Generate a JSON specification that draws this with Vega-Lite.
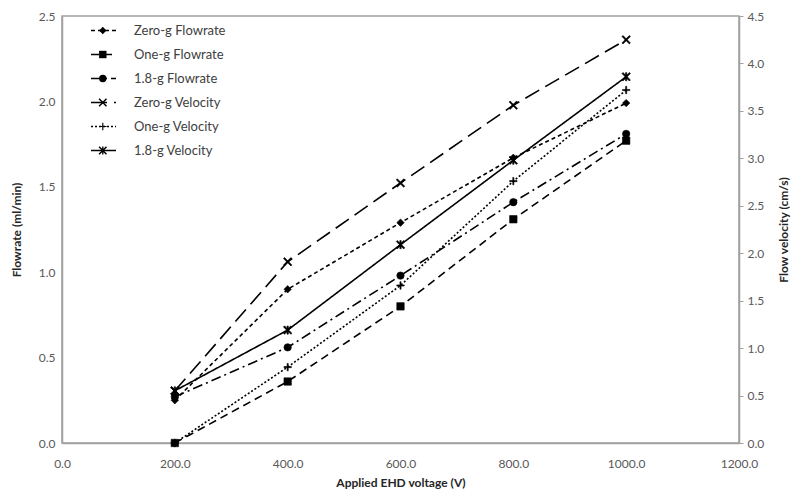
{
  "$schema": "https://vega.github.io/schema/vega-lite/v6.json",
  "width": 677,
  "height": 427,
  "autosize": "none",
  "padding": {"left": 62, "top": 16, "right": 57, "bottom": 53},
  "background": "white",
  "config": {
    "font": "Lato",
    "view": {"stroke": "#a0a0a0", "strokeWidth": 1.5},
    "axis": {
      "grid": false,
      "domainColor": "#a0a0a0",
      "domainWidth": 1.5,
      "labelColor": "#595959",
      "labelFontSize": 12,
      "labelFont": "Lato",
      "titleFont": "Lato",
      "titleFontSize": 12,
      "titleFontWeight": "bold",
      "titleColor": "#262626",
      "labelFlush": false,
      "labelOverlap": false
    }
  },
  "data": {
    "values": [
      {"V": 200, "val": 0.25, "series": "Zero-g Flowrate", "code": "a", "axis": "flow"},
      {"V": 400, "val": 0.90, "series": "Zero-g Flowrate", "code": "a", "axis": "flow"},
      {"V": 600, "val": 1.29, "series": "Zero-g Flowrate", "code": "a", "axis": "flow"},
      {"V": 800, "val": 1.67, "series": "Zero-g Flowrate", "code": "a", "axis": "flow"},
      {"V": 1000, "val": 1.99, "series": "Zero-g Flowrate", "code": "a", "axis": "flow"},
      {"V": 200, "val": 0.0, "series": "One-g Flowrate", "code": "b", "axis": "flow"},
      {"V": 400, "val": 0.36, "series": "One-g Flowrate", "code": "b", "axis": "flow"},
      {"V": 600, "val": 0.80, "series": "One-g Flowrate", "code": "b", "axis": "flow"},
      {"V": 800, "val": 1.31, "series": "One-g Flowrate", "code": "b", "axis": "flow"},
      {"V": 1000, "val": 1.77, "series": "One-g Flowrate", "code": "b", "axis": "flow"},
      {"V": 200, "val": 0.27, "series": "1.8-g Flowrate", "code": "c", "axis": "flow"},
      {"V": 400, "val": 0.56, "series": "1.8-g Flowrate", "code": "c", "axis": "flow"},
      {"V": 600, "val": 0.98, "series": "1.8-g Flowrate", "code": "c", "axis": "flow"},
      {"V": 800, "val": 1.41, "series": "1.8-g Flowrate", "code": "c", "axis": "flow"},
      {"V": 1000, "val": 1.81, "series": "1.8-g Flowrate", "code": "c", "axis": "flow"},
      {"V": 200, "val": 0.55, "series": "Zero-g Velocity", "code": "d", "axis": "vel"},
      {"V": 400, "val": 1.91, "series": "Zero-g Velocity", "code": "d", "axis": "vel"},
      {"V": 600, "val": 2.74, "series": "Zero-g Velocity", "code": "d", "axis": "vel"},
      {"V": 800, "val": 3.56, "series": "Zero-g Velocity", "code": "d", "axis": "vel"},
      {"V": 1000, "val": 4.25, "series": "Zero-g Velocity", "code": "d", "axis": "vel"},
      {"V": 200, "val": 0.0, "series": "One-g Velocity", "code": "e", "axis": "vel"},
      {"V": 400, "val": 0.80, "series": "One-g Velocity", "code": "e", "axis": "vel"},
      {"V": 600, "val": 1.66, "series": "One-g Velocity", "code": "e", "axis": "vel"},
      {"V": 800, "val": 2.76, "series": "One-g Velocity", "code": "e", "axis": "vel"},
      {"V": 1000, "val": 3.72, "series": "One-g Velocity", "code": "e", "axis": "vel"},
      {"V": 200, "val": 0.55, "series": "1.8-g Velocity", "code": "f", "axis": "vel"},
      {"V": 400, "val": 1.19, "series": "1.8-g Velocity", "code": "f", "axis": "vel"},
      {"V": 600, "val": 2.09, "series": "1.8-g Velocity", "code": "f", "axis": "vel"},
      {"V": 800, "val": 2.98, "series": "1.8-g Velocity", "code": "f", "axis": "vel"},
      {"V": 1000, "val": 3.86, "series": "1.8-g Velocity", "code": "f", "axis": "vel"}
    ]
  },
  "encoding": {
    "x": {
      "field": "V",
      "type": "quantitative",
      "scale": {"domain": [0, 1200], "nice": false},
      "axis": {
        "values": [0, 200, 400, 600, 800, 1000, 1200],
        "format": ".1f",
        "ticks": false,
        "labelPadding": 15,
        "title": "Applied EHD voltage (V)",
        "titlePadding": 8
      }
    }
  },
  "layer": [
    {
      "transform": [{"filter": "datum.axis === 'flow'"}],
      "encoding": {
        "y": {
          "field": "val",
          "type": "quantitative",
          "scale": {"domain": [0, 2.5], "nice": false},
          "axis": {
            "orient": "left",
            "values": [0, 0.5, 1, 1.5, 2, 2.5],
            "format": ".1f",
            "ticks": false,
            "labelPadding": 7,
            "title": "Flowrate (ml/min)",
            "titlePadding": 15
          }
        }
      },
      "layer": [
        {
          "mark": {"type": "line", "color": "black", "strokeWidth": 1.6},
          "encoding": {
            "strokeDash": {
              "field": "series",
              "type": "nominal",
              "scale": {
                "domain": ["Zero-g Flowrate", "One-g Flowrate", "1.8-g Flowrate", "Zero-g Velocity", "One-g Velocity", "1.8-g Velocity"],
                "range": [[4, 3], [8, 5], [10, 4, 2, 4], [16, 7], [2, 2], [1, 0]]
              },
              "legend": {
                "orient": "none",
                "legendX": 35,
                "legendY": 8,
                "title": null,
                "padding": 0,
                "symbolType": "M-4,0H4",
                "symbolSize": 39,
                "symbolStrokeWidth": 1.6,
                "symbolStrokeColor": "black",
                "labelFont": "Lato",
                "labelFontSize": 13,
                "labelColor": "#404040",
                "labelOffset": 24,
                "rowPadding": 10
              }
            }
          }
        },
        {
          "mark": {"type": "point", "filled": true, "color": "black", "stroke": "black", "strokeWidth": 0.6, "size": 55, "opacity": 1},
          "encoding": {
            "shape": {
              "field": "code",
              "type": "nominal",
              "scale": {
                "range": [
                  "diamond",
                  "square",
                  "circle",
                  "M-0.86,-1.14L1.14,0.86L0.86,1.14L-1.14,-0.86ZM-0.86,1.14L-1.14,0.86L0.86,-1.14L1.14,-0.86Z",
                  "M-1,-0.15L1,-0.15L1,0.15L-1,0.15ZM0.15,-1L0.15,1L-0.15,1L-0.15,-1Z",
                  "M-0.86,-1.14L1.14,0.86L0.86,1.14L-1.14,-0.86ZM-0.86,1.14L-1.14,0.86L0.86,-1.14L1.14,-0.86ZM0.18,-1.1L0.18,1.1L-0.18,1.1L-0.18,-1.1Z"
                ]
              },
              "legend": {
                "orient": "none",
                "legendX": 34.3,
                "legendY": 8,
                "title": null,
                "padding": 0,
                "symbolSize": 55,
                "symbolFillColor": "black",
                "symbolStrokeColor": "black",
                "symbolStrokeWidth": 0.6,
                "labelFont": "Lato",
                "labelFontSize": 13,
                "labelOpacity": 0,
                "labelOffset": 2,
                "rowPadding": 10
              }
            }
          }
        }
      ]
    },
    {
      "transform": [{"filter": "datum.axis === 'vel'"}],
      "encoding": {
        "y": {
          "field": "val",
          "type": "quantitative",
          "scale": {"domain": [0, 4.5], "nice": false},
          "axis": {
            "orient": "right",
            "values": [0, 0.5, 1, 1.5, 2, 2.5, 3, 3.5, 4, 4.5],
            "format": ".1f",
            "ticks": true,
            "tickSize": 4,
            "tickColor": "#a0a0a0",
            "labelPadding": 4,
            "title": "Flow velocity (cm/s)",
            "titleAngle": 270,
            "titlePadding": 27
          }
        }
      },
      "layer": [
        {
          "mark": {"type": "line", "color": "black", "strokeWidth": 1.6},
          "encoding": {
            "strokeDash": {"field": "series", "type": "nominal"}
          }
        },
        {
          "mark": {"type": "point", "filled": true, "color": "black", "stroke": "black", "strokeWidth": 0.6, "size": 55, "opacity": 1},
          "encoding": {
            "shape": {"field": "code", "type": "nominal"}
          }
        }
      ]
    }
  ],
  "resolve": {"scale": {"y": "independent"}}
}
